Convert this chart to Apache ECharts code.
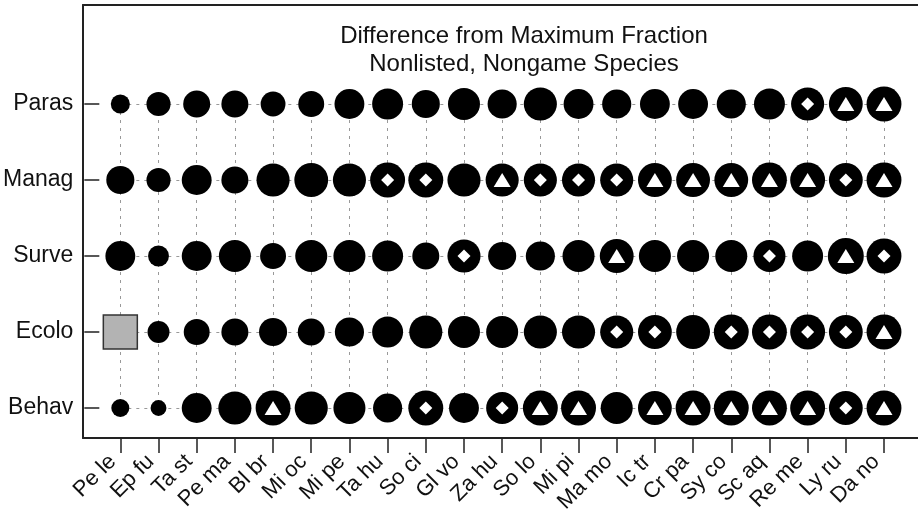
<!DOCTYPE html>
<html>
<head>
<meta charset="utf-8">
<script src="https://cdn.jsdelivr.net/npm/echarts@6/dist/echarts.min.js"></script>
<style>
  html, body { margin: 0; padding: 0; background: #fff; }
  #chart { width: 918px; height: 524px; }
</style>
</head>
<body>
<div id="chart"></div>
<script>
// species along the bottom
const species = ['Pe le', 'Ep fu', 'Ta st', 'Pe ma', 'Bl br', 'Mi oc', 'Mi pe', 'Ta hu', 'So ci', 'Gl vo',
  'Za hu', 'So lo', 'Mi pi', 'Ma mo', 'Ic tr', 'Cr pa', 'Sy co', 'Sc aq', 'Re me', 'Ly ru', 'Da no']
// rows, bottom to top
const groups = ['Behav', 'Ecolo', 'Surve', 'Manag', 'Paras']

// difference from maximum fraction (relative), null = no data
const paras = [0.53, 0.67, 0.75, 0.75, 0.69, 0.72, 0.83, 0.86, 0.78, 0.89, 0.81, 0.92, 0.83, 0.81, 0.83, 0.83, 0.81, 0.86, 0.92, 0.94, 0.97]
const manag = [0.78, 0.67, 0.83, 0.75, 0.92, 0.94, 0.92, 0.97, 0.97, 0.92, 0.92, 0.92, 0.92, 0.92, 0.94, 0.94, 0.94, 0.97, 0.97, 0.94, 0.97]
const surve = [0.83, 0.58, 0.83, 0.89, 0.72, 0.89, 0.89, 0.86, 0.75, 0.92, 0.78, 0.81, 0.89, 0.94, 0.89, 0.89, 0.89, 0.89, 0.86, 1.00, 0.97]
const ecolo = [null, 0.61, 0.72, 0.75, 0.78, 0.75, 0.81, 0.86, 0.92, 0.89, 0.89, 0.92, 0.92, 0.92, 0.94, 0.94, 0.97, 0.97, 0.97, 0.94, 0.97]
const behav = [0.50, 0.44, 0.83, 0.92, 0.97, 0.92, 0.89, 0.81, 0.97, 0.83, 0.89, 0.97, 0.97, 0.89, 0.94, 0.97, 0.97, 0.97, 0.97, 0.94, 0.97]

// inner flags: '.' none, 'd' diamond, 't' triangle
const parasFlags = '..................dtt'
const managFlags = '.......dd.tdddtttttdt'
const surveFlags = '.........d...t...d.td'
const ecoloFlags = '.............dd.ddddt'
const behavFlags = '....t...d.dtt.tttttdt'

const rowValues = [behav, ecolo, surve, manag, paras]
const rowFlags = [behavFlags, ecoloFlags, surveFlags, managFlags, parasFlags]

const maxDiam = 36

const circles = []
const diamonds = []
const triangles = []
const missing = []
rowValues.forEach((vals, r) => {
  vals.forEach((v, i) => {
    if (v == null) {
      missing.push([i, r])
      return
    }
    circles.push([i, r, v])
    const f = rowFlags[r][i]
    if (f === 'd') diamonds.push([i, r])
    if (f === 't') triangles.push([i, r])
  })
})

const chart = echarts.init(document.getElementById('chart'))
const font = 'Liberation Sans, Arial, sans-serif'
const frameLine = { show: true, lineStyle: { color: '#222', width: 2 } }

chart.setOption({
  animation: false,
  title: {
    text: 'Difference from Maximum Fraction\nNonlisted, Nongame Species',
    left: 519,
    top: 17,
    textAlign: 'center',
    textStyle: {
      fontFamily: font,
      fontSize: 24,
      fontWeight: 'normal',
      color: '#111',
      lineHeight: 28
    }
  },
  grid: [
    { left: 119, right: 34, top: 104, bottom: 116 },
    // frame: left, top, bottom lines only (open on the right)
    { left: 83, right: 0, top: 5, bottom: 86 }
  ],
  xAxis: [
    {
      type: 'category',
      data: species,
      boundaryGap: false,
      offset: 30,
      axisLine: { show: false },
      axisTick: { show: true, alignWithLabel: true, length: 15, lineStyle: { color: '#222', width: 1.5 } },
      axisLabel: { rotate: 45, margin: 28, verticalAlign: 'bottom', fontFamily: font, fontSize: 22, color: '#111', interval: 0 },
      splitLine: { show: true, lineStyle: { color: '#999', type: [3, 5], width: 1 } }
    },
    { gridIndex: 1, type: 'value', position: 'bottom', min: 0, max: 1, axisLine: frameLine, axisTick: { show: false }, axisLabel: { show: false }, splitLine: { show: false } },
    { gridIndex: 1, type: 'value', position: 'top', min: 0, max: 1, axisLine: frameLine, axisTick: { show: false }, axisLabel: { show: false }, splitLine: { show: false } }
  ],
  yAxis: [
    {
      type: 'category',
      data: groups,
      boundaryGap: false,
      offset: 36,
      axisLine: { show: false },
      axisTick: { show: true, inside: true, length: 15, lineStyle: { color: '#222', width: 1.5 } },
      axisLabel: { margin: 11, fontFamily: font, fontSize: 23, color: '#111' },
      splitLine: { show: true, lineStyle: { color: '#999', type: [3, 5], width: 1 } }
    },
    { gridIndex: 1, type: 'value', position: 'left', min: 0, max: 1, axisLine: frameLine, axisTick: { show: false }, axisLabel: { show: false }, splitLine: { show: false } }
  ],
  series: [
    {
      type: 'scatter',
      data: circles,
      symbol: 'circle',
      symbolSize: d => d[2] * maxDiam,
      itemStyle: { color: '#000', opacity: 1 },
      z: 3
    },
    {
      type: 'scatter',
      data: diamonds,
      symbol: 'diamond',
      symbolSize: [13, 13],
      itemStyle: { color: '#fff', opacity: 1 },
      z: 4
    },
    {
      type: 'scatter',
      data: triangles,
      symbol: 'triangle',
      symbolSize: [17, 14],
      itemStyle: { color: '#fff', opacity: 1 },
      z: 4
    },
    {
      type: 'scatter',
      data: missing,
      symbol: 'rect',
      symbolSize: 34,
      itemStyle: { color: '#b3b3b3', borderColor: '#333', borderWidth: 1.5, opacity: 1 },
      z: 3
    }
  ]
})
</script>
</body>
</html>
